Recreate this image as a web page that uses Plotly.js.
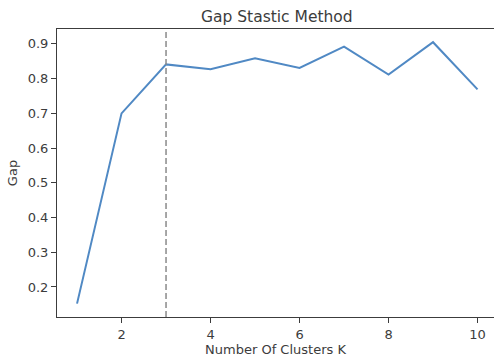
<!DOCTYPE html>
<html>
<head>
<meta charset="utf-8">
<script src="https://cdn.plot.ly/plotly-3.0.1.min.js"></script>
<style>html,body{margin:0;padding:0;background:#fff;}#chart{width:494px;height:360px;}</style>
</head>
<body>
<div id="chart"></div>
<script>
var clustersK = [1, 2, 3, 4, 5, 6, 7, 8, 9, 10];
var gapValues = [0.152, 0.700, 0.841, 0.827, 0.859, 0.831, 0.892, 0.812, 0.905, 0.769];
var optimalK = [3];
var xTickVals = [2, 4, 6, 8, 10];
var yTickVals = [0.2, 0.3, 0.4, 0.5, 0.6, 0.7, 0.8, 0.9];

var textColor = '#3c3c3c';
var font = {family: 'DejaVu Sans, sans-serif', size: 13, color: textColor};

var trace = {
  x: clustersK,
  y: gapValues,
  type: 'scatter',
  mode: 'lines',
  line: {color: '#5089c4', width: 2},
  hoverinfo: 'none'
};

var layout = {
  width: 494,
  height: 360,
  margin: {l: 57, r: 0, t: 29, b: 43, pad: 0},
  paper_bgcolor: '#ffffff',
  plot_bgcolor: '#ffffff',
  showlegend: false,
  font: font,
  title: {
    text: 'Gap Stastic Method',
    font: {family: 'DejaVu Sans, sans-serif', size: 15.5, color: textColor},
    xref: 'paper', x: 0.503, xanchor: 'center',
    yref: 'container', y: 0.955, yanchor: 'middle'
  },
  xaxis: {
    range: [0.55, 10.37],
    tickmode: 'array',
    tickvals: xTickVals,
    ticktext: xTickVals.map(String),
    ticks: 'outside', ticklen: 5, tickwidth: 1, tickcolor: textColor,
    showgrid: false, zeroline: false,
    showline: true, linecolor: textColor, linewidth: 1, mirror: true,
    tickfont: font,
    title: {text: 'Number Of Clusters K', font: font, standoff: 3}
  },
  yaxis: {
    range: [0.1135, 0.943],
    tickmode: 'array',
    tickvals: yTickVals,
    ticktext: yTickVals.map(function(v){return v.toFixed(1);}),
    ticks: 'outside', ticklen: 5, tickwidth: 1, tickcolor: textColor,
    showgrid: false, zeroline: false,
    showline: true, linecolor: textColor, linewidth: 1, mirror: false,
    tickfont: font,
    title: {text: 'Gap', font: font, standoff: 7}
  },
  shapes: optimalK.map(function(k){
    return {type: 'line', xref: 'x', yref: 'paper', x0: k, x1: k, y0: 0, y1: 1,
            line: {color: '#8a8a8a', width: 1.5, dash: '6px,3px'}};
  })
};

Plotly.newPlot('chart', [trace], layout, {staticPlot: true, displayModeBar: false});
</script>
</body>
</html>
